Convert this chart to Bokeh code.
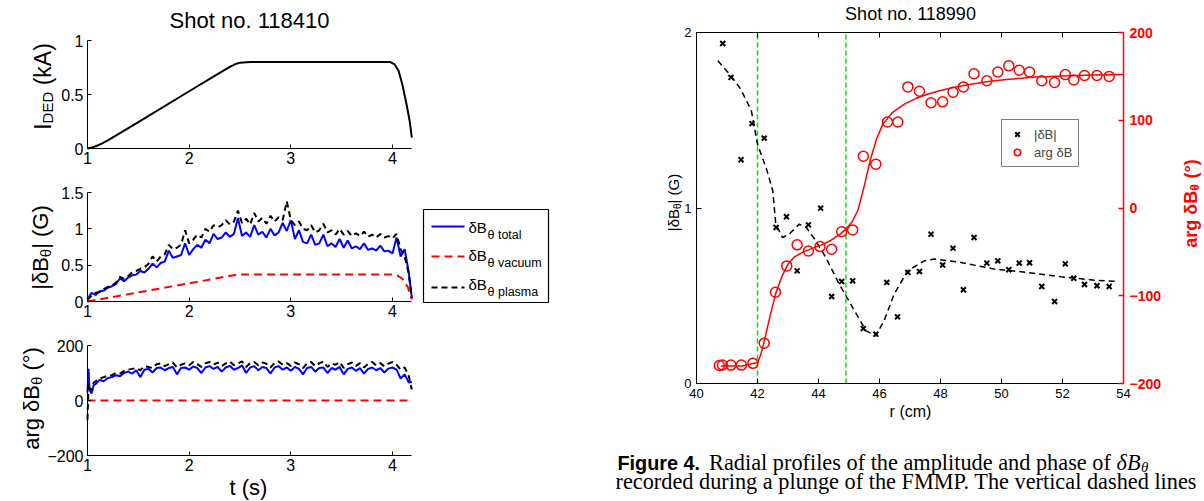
import math
from bokeh.plotting import figure
from bokeh.models import (Range1d, LinearAxis, Label, FixedTicker,
                          CustomJSTickFormatter, Legend, LegendItem)
from bokeh.embed import file_html
from bokeh.resources import INLINE

SANS = "Liberation Sans"
SERIF = "Liberation Serif"
W, H = 1204, 501

# ---------------- left panel data (shot 118410) ----------------
title_left = "Shot no. 118410"
ticks_t = [1, 2, 3, 4]
ticks_I = [0, 0.5, 1]
ticks_dB = [0, 0.5, 1, 1.5]
ticks_arg = [-200, 0, 200]

t_ided = [1.00, 1.05, 1.10, 1.15, 1.20, 1.50, 2.00, 2.30, 2.40, 2.45, 2.50, 2.60,
          3.00, 3.50, 3.98, 4.02, 4.06, 4.10, 4.14, 4.17, 4.19]
i_ded = [0.00, 0.012, 0.028, 0.05, 0.075, 0.245, 0.53, 0.70, 0.755, 0.78, 0.795, 0.80,
         0.80, 0.80, 0.80, 0.78, 0.72, 0.58, 0.40, 0.25, 0.10]

T = [round(1.0 + 0.04 * i, 2) for i in range(80)] + [4.19]
db_total = [0.03, 0.12, 0.09, 0.14, 0.15, 0.19, 0.21, 0.24, 0.32, 0.28,
            0.33, 0.36, 0.37, 0.42, 0.40, 0.45, 0.52, 0.47, 0.53, 0.55,
            0.70, 0.60, 0.62, 0.64, 0.80, 0.64, 0.72, 0.78, 0.74, 0.85,
            0.80, 0.93, 0.86, 0.88, 0.95, 0.89, 0.93, 1.15, 0.90, 0.95,
            0.89, 1.05, 0.92, 0.96, 0.88, 1.00, 0.91, 0.95, 1.08, 0.97,
            1.12, 0.86, 0.98, 0.82, 0.80, 0.92, 0.78, 0.80, 0.92, 0.76,
            0.80, 0.75, 0.86, 0.74, 0.84, 0.73, 0.76, 0.72, 0.80, 0.71,
            0.73, 0.70, 0.77, 0.69, 0.70, 0.66, 0.88, 0.62, 0.72, 0.40,
            0.05]
db_plasma = [0.02, 0.08, 0.12, 0.13, 0.17, 0.20, 0.22, 0.26, 0.34, 0.31,
             0.35, 0.40, 0.42, 0.45, 0.47, 0.52, 0.62, 0.55, 0.62, 0.65,
             0.78, 0.72, 0.74, 0.78, 0.98, 0.80, 0.85, 0.92, 0.88, 1.00,
             0.96, 1.05, 1.02, 1.05, 1.12, 1.06, 1.10, 1.25, 1.08, 1.14,
             1.06, 1.22, 1.10, 1.15, 1.07, 1.18, 1.10, 1.16, 1.12, 1.38,
             1.12, 1.05, 1.10, 1.00, 0.98, 1.05, 0.95, 0.98, 1.07, 0.95,
             0.98, 0.92, 1.00, 0.92, 0.97, 0.90, 0.94, 0.90, 0.96, 0.89,
             0.92, 0.88, 0.93, 0.88, 0.90, 0.87, 0.93, 0.72, 0.62, 0.38,
             0.05]
t_vac = [1.00, 1.50, 2.00, 2.47, 3.00, 3.50, 4.00, 4.05, 4.10, 4.15, 4.19]
db_vac = [0.00, 0.125, 0.25, 0.37, 0.37, 0.37, 0.37, 0.355, 0.31, 0.20, 0.03]

T3 = [1.00, 1.01, 1.02, 1.04, 1.06] + T[2:]
ph_total = [30, 115, 40, 25, 55,
            60, 75, 70, 82, 85, 92, 88, 100,
            105, 98, 110, 85, 112, 115, 102, 118, 120, 110,
            118, 122, 95, 118, 120, 112, 124, 118, 100, 120,
            125, 115, 122, 105, 120, 126, 112, 118, 128, 100,
            120, 125, 110, 122, 118, 98, 120, 125, 112, 120,
            108, 122, 115, 95, 118, 122, 105, 118, 120, 100,
            118, 112, 122, 95, 115, 120, 108, 118, 98, 115,
            120, 110, 118, 102, 116, 120, 112, 80, 95, 65,
            68]
ph_plasma = [-70, 60, 50, 35, 65,
             70, 80, 85, 90, 92, 100, 98, 108,
             112, 115, 118, 110, 125, 122, 118, 132, 135, 125,
             132, 138, 120, 130, 135, 128, 140, 132, 122, 135,
             140, 130, 138, 125, 135, 142, 128, 135, 142, 122,
             136, 140, 128, 138, 134, 120, 136, 142, 130, 136,
             126, 138, 132, 118, 135, 140, 125, 135, 142, 122,
             135, 130, 140, 118, 132, 138, 126, 136, 120, 133,
             140, 128, 136, 124, 134, 140, 130, 112, 120, 90,
             40]
t_vac_ph = [1.00, 4.19]
ph_vac = [0, 0]

legend_subs = ["\u03b8 total", "\u03b8 vacuum", "\u03b8 plasma"]

# ---------------- right panel data (shot 118990) ----------------
title_right = "Shot no. 118990"
ticks_r = [40, 42, 44, 46, 48, 50, 52, 54]
ticks_amp = [0, 1, 2]
ticks_ph = [-200, -100, 0, 100, 200]
q_surfaces = [42.0, 44.9]

r_amp = [40.86, 41.13, 41.46, 41.82, 42.22, 42.61, 42.95, 43.30, 43.67, 44.07,
         44.43, 44.76, 45.12, 45.47, 45.88, 46.24, 46.59, 46.93, 47.31, 47.69,
         48.07, 48.41, 48.75, 49.10, 49.52, 49.88, 50.24, 50.58, 50.92, 51.32,
         51.74, 52.09, 52.37, 52.72, 53.13, 53.53]
amp = [1.937, 1.744, 1.275, 1.481, 1.398, 0.889, 0.950, 0.642, 0.904, 0.999,
       0.496, 0.581, 0.585, 0.313, 0.281, 0.576, 0.380, 0.633, 0.638, 0.851,
       0.675, 0.771, 0.534, 0.832, 0.686, 0.699, 0.648, 0.686, 0.688, 0.553,
       0.467, 0.682, 0.600, 0.564, 0.557, 0.553]
r_ph = [40.75, 40.85, 41.13, 41.47, 41.85, 42.22, 42.59, 42.96, 43.30, 43.67,
        44.05, 44.43, 44.76, 45.12, 45.47, 45.88, 46.26, 46.60, 46.93, 47.31,
        47.69, 48.07, 48.41, 48.75, 49.10, 49.52, 49.88, 50.24, 50.58, 50.92,
        51.32, 51.74, 52.09, 52.37, 52.72, 53.13, 53.53]
ph = [-179.5, -179, -179, -179, -177, -154, -96, -66, -42, -49,
      -44, -47, -27, -25, 59, 50, 98, 98, 138, 133,
      120, 121, 132, 138, 153, 145, 155, 162, 157, 155,
      145, 143, 152, 146, 151, 151, 150]
r_fit_amp = [40.70, 41.13, 41.45, 41.80, 42.00, 42.30, 42.50, 42.60, 42.82, 43.04,
             43.37, 43.60, 43.91, 44.24, 44.68, 45.12, 45.56, 45.88, 46.15, 46.48,
             46.92, 47.47, 47.80, 48.67, 49.76, 50.85, 51.95, 53.04, 53.80]
amp_fit = [1.839, 1.753, 1.677, 1.554, 1.364, 1.22, 1.098, 0.908, 0.832, 0.851,
           0.908, 0.889, 0.813, 0.718, 0.566, 0.433, 0.300, 0.272, 0.357, 0.509,
           0.642, 0.699, 0.709, 0.690, 0.652, 0.633, 0.608, 0.589, 0.581]
r_fit_ph = [40.8, 41.5, 42.0, 42.1, 42.2, 42.4, 42.6, 42.8, 43.0, 43.2, 43.5, 43.8,
            44.1, 44.4, 44.7, 44.9, 45.1, 45.3, 45.5, 45.7, 45.9, 46.1, 46.4, 46.8,
            47.2, 47.6, 48.0, 48.5, 49.0, 49.5, 50.0, 51.0, 52.0, 53.0, 54.0]
ph_fit = [-180, -180, -176, -168, -155, -125, -97, -78, -64, -56, -50, -46,
          -42, -37, -30, -24, -16, -2, 25, 55, 78, 95, 108, 118,
          125, 130, 134, 138, 141, 144, 146, 149, 150.5, 151.5, 152]

caption_bold = "Figure 4."
caption_l1 = "Radial profiles of the amplitude and phase of "
caption_l2 = "recorded during a plunge of the FMMP. The vertical dashed lines"

# ---------------- helpers ----------------
AR = {' ': 278, '(': 333, ')': 333, '|': 260, '.': 278, '\u00b0': 400, '\u03b4': 556,
      '\u03b8': 556, 'A': 667, 'B': 667, 'D': 722, 'E': 667, 'G': 778, 'I': 278,
      'a': 556, 'g': 556, 'k': 500, 'r': 333}
ARB = {' ': 278, '(': 333, ')': 333, '\u00b0': 400, '\u03b4': 611, '\u03b8': 611,
       'B': 722, 'a': 556, 'r': 389, 'g': 611, 'F': 611, 'i': 278, 'u': 611,
       'e': 556, '4': 556, '.': 278}
TM = {' ': 250, 'a': 444, 'b': 500, 'c': 444, 'd': 500, 'e': 444, 'f': 333, 'g': 500,
      'h': 500, 'i': 278, 'l': 278, 'm': 778, 'n': 500, 'o': 500, 'p': 500, 'r': 333,
      's': 389, 't': 278, 'u': 500, 'v': 500, 'y': 500, 'R': 667, 'F': 556,
      'M': 889, 'P': 556, 'T': 611, '.': 250}


def tw(s, size, table):
    return sum(table.get(c, 520) for c in s) * size / 1000.0


def span_range(a, b, pa, pb, total):
    """Range whose values a, b fall on canvas pixels pa, pb (pixels counted
    along Bokeh's own axis direction)."""
    k = (pb - pa) / (b - a)
    start = a - pa / k
    return Range1d(start, start + total / k)


def xr(a, b, pa, pb):
    return span_range(a, b, pa, pb, W)


def yr(a, b, pya, pyb):  # pya, pyb: pixel rows from the top
    return span_range(a, b, H - pya, H - pyb, H)


p = figure(width=W, height=H, x_range=Range1d(0, W), y_range=Range1d(H, 0),
           toolbar_location=None, output_backend="svg", min_border=0,
           x_axis_location=None, y_axis_location=None)
p.grid.visible = False
p.outline_line_color = None
p.background_fill_color = "white"
p.border_fill_color = "white"

p.extra_x_ranges = {"xt": xr(1, 4.19, 87, 411.3), "xr": xr(40, 54, 696, 1123)}
p.extra_y_ranges = {"y1": yr(0, 1, 148, 40), "y2": yr(0, 1.5, 301, 192),
                    "y3": yr(-200, 200, 455, 345), "ya": yr(0, 2, 383, 32),
                    "yph": yr(-200, 200, 383, 32)}


def add_axis(side, xname, yname, loc, bounds, ticks, size, color="black",
             bold=False, width=1, tick=4, standoff=4, blank=False):
    ax = LinearAxis(x_range_name=xname, y_range_name=yname, fixed_location=loc,
                    bounds=bounds, ticker=FixedTicker(ticks=ticks))
    if blank:
        ax.formatter = CustomJSTickFormatter(code="return '';")
    else:
        ax.formatter = CustomJSTickFormatter(
            code="return tick < 0 ? '\u2212' + Math.abs(tick) : String(tick);")
    ax.major_tick_in = tick
    ax.major_tick_out = 0
    ax.minor_tick_in = 0
    ax.minor_tick_out = 0
    ax.axis_line_color = color
    ax.axis_line_width = width
    ax.major_tick_line_color = color
    ax.major_tick_line_width = width
    ax.major_label_text_font = SANS
    ax.major_label_text_font_size = size
    ax.major_label_text_color = color
    ax.major_label_text_font_style = "bold" if bold else "normal"
    ax.major_label_standoff = standoff
    p.add_layout(ax, side)


def label(text, x, y, size, font=SANS, style="normal", align="center",
          baseline="middle", color="black", angle=0.0):
    p.add_layout(Label(x=x, y=y, text=text, angle=angle, text_align=align,
                       text_baseline=baseline, text_font=font,
                       text_font_size=f"{size}px", text_font_style=style,
                       text_color=color))


def vlabel(pieces, xb, yc, color="black", bold=False):
    """Upright-reading (rotated) label made of pieces (text, size, shift)."""
    table = ARB if bold else AR
    total = sum(tw(t, s, table) for t, s, _ in pieces)
    y = yc + total / 2.0
    for t, s, dx in pieces:
        lead = len(t) - len(t.lstrip(" "))
        y -= tw(" " * lead, s, table)
        core = t.strip(" ")
        label(core, xb + dx, y, s, style="bold" if bold else "normal", align="left",
              baseline="alphabetic", color=color, angle=math.pi / 2)
        y -= tw(core, s, table)
        trail = len(t) - len(t.rstrip(" "))
        y -= tw(" " * trail, s, table)


BLUE = "#0000ff"
RED = "#ff0000"
TB = (1, 4.19)

# ---------------- left panel ----------------
add_axis("below", "xt", "y1", 0, TB, ticks_t, "16px", standoff=3)
add_axis("left", "xt", "y1", 1, (0, 1), ticks_I, "16px")
p.line(t_ided, i_ded, x_range_name="xt", y_range_name="y1", line_color="black",
       line_width=2)

add_axis("below", "xt", "y2", 0, TB, ticks_t, "16px", standoff=3)
add_axis("left", "xt", "y2", 1, (0, 1.5), ticks_dB, "16px")
p.line(T, db_total, x_range_name="xt", y_range_name="y2", line_color=BLUE, line_width=2)
p.line(t_vac, db_vac, x_range_name="xt", y_range_name="y2", line_color=RED,
       line_width=2, line_dash="8 5")
p.line(T, db_plasma, x_range_name="xt", y_range_name="y2", line_color="black",
       line_width=2, line_dash="6 4")

add_axis("below", "xt", "y3", -200, TB, ticks_t, "16px", standoff=3)
add_axis("left", "xt", "y3", 1, (-200, 200), ticks_arg, "16px")
p.line(T3, ph_total, x_range_name="xt", y_range_name="y3", line_color=BLUE, line_width=2)
p.line(t_vac_ph, ph_vac, x_range_name="xt", y_range_name="y3", line_color=RED,
       line_width=2, line_dash="8 5")
p.line(T3, ph_plasma, x_range_name="xt", y_range_name="y3", line_color="black",
       line_width=2, line_dash="6 4")

label(title_left, 249, 20, 22)
label("t (s)", 248, 487, 22)
vlabel([("I", 23, 0), ("DED", 15, 5), (" (kA)", 23, 0)], 42, 86)
vlabel([("|\u03b4B", 22, 0), ("\u03b8", 15, 5), ("| (G)", 22, 0)], 40, 247)
vlabel([("arg \u03b4B", 22, 0), ("\u03b8", 15, 5), (" (\u00b0)", 22, 0)], 31, 398)

# legend box of the left panel
p.quad(left=423, right=548, top=209, bottom=302, fill_color="white",
       line_color="black", line_width=1.2)
leg_styles = [(BLUE, "solid"), (RED, "8 5"), ("black", "6 4")]
leg_line_y = [226, 256, 287]
leg_main_y = [227, 255, 284]
leg_sub_y = [234, 262, 291]
for (col, dash), sub, ly, my, sy in zip(leg_styles, legend_subs, leg_line_y,
                                        leg_main_y, leg_sub_y):
    p.line([431, 464], [ly, ly], line_color=col, line_width=2, line_dash=dash)
    label("\u03b4B", 468, my, 15, align="left", baseline="alphabetic")
    label(sub, 487, sy, 12.5, align="left", baseline="alphabetic")

# ---------------- right panel ----------------
add_axis("below", "xr", "ya", 0, (40, 54), ticks_r, "13px", tick=5, standoff=5)
add_axis("above", "xr", "ya", 2, (40, 54), ticks_r, "13px", tick=5, standoff=0,
         blank=True)
add_axis("left", "xr", "ya", 40, (0, 2), ticks_amp, "13px", tick=5, standoff=5)
add_axis("right", "xr", "yph", 54, (-200, 200), ticks_ph, "14px", color=RED,
         bold=True, width=1.5, tick=5, standoff=6)

p.segment(x0=q_surfaces, y0=0, x1=q_surfaces, y1=2, x_range_name="xr",
          y_range_name="ya", line_color="#00e000", line_dash="5 3", line_width=1.5)
p.line(r_fit_amp, amp_fit, x_range_name="xr", y_range_name="ya", line_color="black",
       line_width=1.5, line_dash="6 4")
rx = p.scatter(r_amp, amp, x_range_name="xr", y_range_name="ya", marker="x", size=7,
               line_color="black", line_width=2)
p.line(r_fit_ph, ph_fit, x_range_name="xr", y_range_name="yph", line_color=RED,
       line_width=1.5)
ro = p.scatter(r_ph, ph, x_range_name="xr", y_range_name="yph", marker="circle",
               size=10, line_color=RED, fill_color=None, line_width=1.5)

lg = Legend(items=[LegendItem(label="|\u03b4B|", renderers=[rx]),
                   LegendItem(label="arg \u03b4B", renderers=[ro])],
            location=(1001, H - 167), border_line_color="black", border_line_width=1.2,
            label_text_font=SANS, label_text_font_size="13px", glyph_width=18,
            glyph_height=16, padding=6, spacing=2, label_standoff=8, margin=0,
            background_fill_alpha=1)
p.add_layout(lg)

label(title_right, 910, 13, 18)
label("r (cm)", 910, 411, 16)
vlabel([("|\u03b4B", 15, 0), ("\u03b8", 10, 4), ("| (G)", 15, 0)], 673, 202)
vlabel([("arg \u03b4B", 18, 0), ("\u03b8", 12, 4), (" (\u00b0)", 18, 0)], 1190, 203,
       color=RED, bold=True)

# ---------------- caption ----------------
SB, SS = 19.8, 22.3
CX = 617
label(caption_bold, CX, 462, SB, style="bold", align="left", baseline="alphabetic")
x1 = CX + tw(caption_bold, SB, ARB) + 9
label(caption_l1, x1, 462, SS, font=SERIF, align="left", baseline="alphabetic")
x2 = x1 + tw(caption_l1, SS, TM)
label("\u03b4B", x2, 462, SS, font=SERIF, style="italic", align="left",
      baseline="alphabetic")
label("\u03b8", x2 + 24.5, 466, 15, font=SERIF, style="italic", align="left",
      baseline="alphabetic")
label(caption_l2, 615, 481, SS, font=SERIF, align="left", baseline="alphabetic")

with open("out.html", "w") as f:
    f.write(file_html(p, INLINE, title="chart"))
